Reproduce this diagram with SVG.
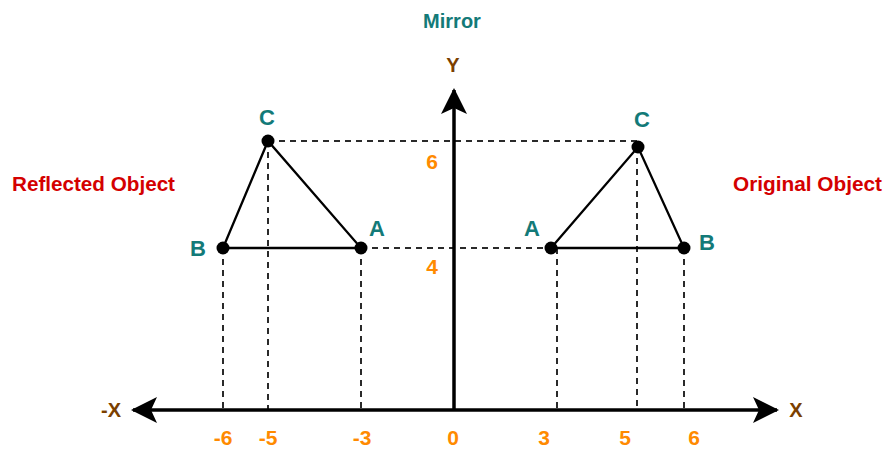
<svg xmlns="http://www.w3.org/2000/svg" width="888" height="450" viewBox="0 0 888 450">
<style>
.lbl{font-family:"Liberation Sans",Arial,sans-serif;font-weight:bold;font-size:22px;fill:#137a78;text-anchor:middle;dominant-baseline:central}
.num{font-family:"Liberation Sans",Arial,sans-serif;font-weight:bold;font-size:21px;fill:#ff8a00;text-anchor:middle;dominant-baseline:central}
.ax{font-family:"Liberation Sans",Arial,sans-serif;font-weight:bold;font-size:20px;fill:#7b3f00;text-anchor:middle;dominant-baseline:central}
.obj{font-family:"Liberation Sans",Arial,sans-serif;font-weight:bold;font-size:20px;fill:#d40000;dominant-baseline:central}
.dash{stroke:#2a2a2a;stroke-width:2;stroke-dasharray:6,5;fill:none}
.tri{stroke:#000;stroke-width:2.3;fill:none}
.axis{stroke:#000;stroke-width:3.5;fill:none}
.dot{fill:#000}
</style>
<defs>
<marker id="ah" viewBox="0 0 26 26" refX="24" refY="13" markerWidth="26" markerHeight="26" markerUnits="userSpaceOnUse" orient="auto-start-reverse">
<path d="M26,13 L0,0 L6,13 L0,26 Z" fill="#000"/>
</marker>
</defs>
<g id="connectors">
<line class="dash" x1="268" y1="141" x2="637" y2="141"/>
<line class="dash" x1="361" y1="248" x2="551" y2="248"/>
<line class="dash" x1="223" y1="248" x2="223" y2="410"/>
<line class="dash" x1="268" y1="141" x2="268" y2="410"/>
<line class="dash" x1="361" y1="248" x2="361" y2="410"/>
<line class="dash" x1="557" y1="248" x2="557" y2="410"/>
<line class="dash" x1="637" y1="147" x2="637" y2="410"/>
<line class="dash" x1="684" y1="248" x2="684" y2="410"/>
<line class="axis" x1="133" y1="410" x2="777" y2="410" marker-start="url(#ah)" marker-end="url(#ah)"/>
<line class="axis" x1="454" y1="410" x2="454" y2="90" marker-end="url(#ah)"/>
</g>
<g id="reflected">
<polyline class="tri" points="223,248 268,141 361,248 223,248"/>
<circle class="dot" cx="268" cy="141" r="6.5"/>
<circle class="dot" cx="361" cy="248" r="6.5"/>
<circle class="dot" cx="223" cy="248" r="6.5"/>
<text class="lbl" x="267" y="117">C</text>
<text class="lbl" x="377" y="228">A</text>
<text class="lbl" x="198" y="248">B</text>
</g>
<g id="original">
<polyline class="tri" points="551,248 638,147 684,248 551,248"/>
<circle class="dot" cx="638" cy="147" r="6.5"/>
<circle class="dot" cx="551" cy="248" r="6.5"/>
<circle class="dot" cx="684" cy="248" r="6.5"/>
<text class="lbl" x="642" y="119">C</text>
<text class="lbl" x="532" y="228">A</text>
<text class="lbl" x="707" y="242">B</text>
</g>
<g id="labels">
<text class="lbl" x="452" y="21" style="font-size:20px">Mirror</text>
<text class="ax" x="453" y="65">Y</text>
<text class="ax" x="796" y="410">X</text>
<text class="ax" x="111" y="410">-X</text>
<text class="obj" x="12" y="184" textLength="163" lengthAdjust="spacingAndGlyphs">Reflected Object</text>
<text class="obj" x="733" y="184" textLength="149" lengthAdjust="spacingAndGlyphs">Original Object</text>
<text class="num" x="432" y="161">6</text>
<text class="num" x="432" y="266">4</text>
<text class="num" x="223" y="437">-6</text>
<text class="num" x="268" y="437">-5</text>
<text class="num" x="362" y="437">-3</text>
<text class="num" x="453" y="437">0</text>
<text class="num" x="544" y="437">3</text>
<text class="num" x="625" y="437">5</text>
<text class="num" x="694" y="437">6</text>
</g>
</svg>
